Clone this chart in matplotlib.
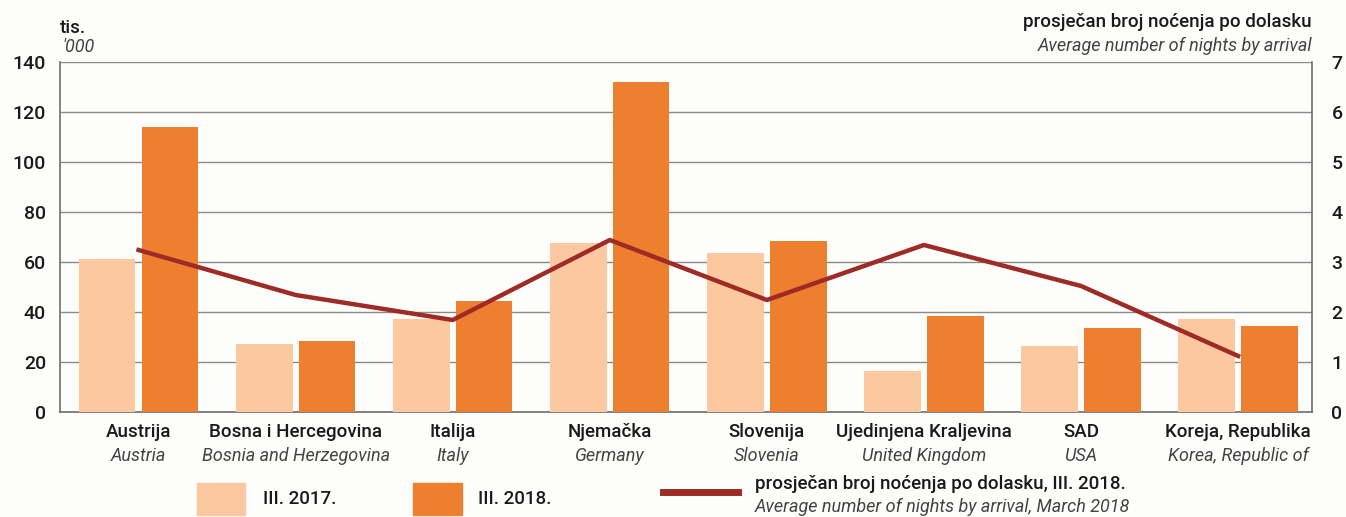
import matplotlib
matplotlib.use("Agg")
import matplotlib.pyplot as plt
import numpy as np
from matplotlib.patches import Rectangle
from matplotlib.lines import Line2D

plt.rcParams['font.family'] = ['Roboto', 'DejaVu Sans']

countries_hr = ["Austrija", "Bosna i Hercegovina", "Italija", "Njemačka",
                "Slovenija", "Ujedinjena Kraljevina", "SAD", "Koreja, Republika"]
countries_en = ["Austria", "Bosnia and Herzegovina", "Italy", "Germany",
                "Slovenia", "United Kingdom", "USA", "Korea, Republic of"]
arrivals_2017 = [61, 27, 37, 67.5, 63.5, 16.5, 26.5, 37]
arrivals_2018 = [114, 28.5, 44.5, 132, 68.5, 38.5, 33.5, 34.5]
nights_per_arrival = [3.24, 2.34, 1.84, 3.44, 2.24, 3.34, 2.52, 1.12]
left_ticks = [0, 20, 40, 60, 80, 100, 120, 140]
right_ticks = [0, 1, 2, 3, 4, 5, 6, 7]

c17 = "#FCC89F"
c18 = "#EE7F2F"
cline = "#9E2B25"
bg = "#FDFDFB"
dark = "#1a1a1a"
grey = "#444444"

fig = plt.figure(figsize=(13.46, 5.17), dpi=100, facecolor=bg)
ax = fig.add_axes([0.0446, 0.2031, 0.9301, 0.677])
ax.set_facecolor(bg)
x = np.arange(len(countries_hr))
w = 0.36
ax.bar(x - 0.2, arrivals_2017, width=w, color=c17, zorder=3)
ax.bar(x + 0.2, arrivals_2018, width=w, color=c18, zorder=3)
ax.set_xlim(-0.5, 7.47)
ax.set_ylim(0, 140)
ax.set_yticks(left_ticks)
ax.yaxis.grid(True, color="#8a8a8a", linewidth=1.0, zorder=0)
ax.set_axisbelow(True)
for s in ["left", "right", "bottom"]:
    ax.spines[s].set_color("#6e6e6e")
    ax.spines[s].set_linewidth(1.2)
ax.spines["top"].set_visible(False)
ax.tick_params(axis='y', length=0, pad=10, labelsize=14, labelcolor=dark)
ax.set_yticklabels([str(v) for v in left_ticks], fontweight='medium')
ax.set_xticks(x)
ax.set_xticklabels([""] * len(x))
ax.tick_params(axis='x', length=0)

ax2 = ax.twinx()
ax2.plot(x, nights_per_arrival, color=cline, linewidth=3.2, zorder=5)
ax2.set_ylim(0, 7)
ax2.set_yticks(right_ticks)
ax2.set_yticklabels([str(v) for v in right_ticks], fontweight='medium')
ax2.tick_params(axis='y', length=0, pad=14, labelsize=14, labelcolor=dark)
for s in ax2.spines.values():
    s.set_visible(False)

for i in range(len(x)):
    ax.text(x[i], -8, countries_hr[i], ha='center', va='center', fontsize=13.5,
            fontweight='medium', color=dark, transform=ax.transData)
    ax.text(x[i], -17.5, countries_en[i], ha='center', va='center', fontsize=13,
            style='italic', color=grey, transform=ax.transData)

# axis titles
fig.text(60/1346, 1-28/517, "tis.", fontsize=13.5, fontweight='medium', ha='left', va='center', color=dark)
fig.text(62/1346, 1-47/517, "'000", fontsize=13, style='italic', ha='left', va='center', color=grey)
fig.text(1312/1346, 1-22/517, "prosječan broj noćenja po dolasku", fontsize=13.5,
         fontweight='medium', ha='right', va='center', color=dark)
fig.text(1312/1346, 1-46/517, "Average number of nights by arrival", fontsize=13,
         style='italic', ha='right', va='center', color=grey)

# legend
fig.patches.append(Rectangle((197/1346, 1-515/517), 48/1346, 32/517, transform=fig.transFigure,
                             color=c17, figure=fig))
fig.text(263/1346, 1-499/517, "III. 2017.", fontsize=13.5, fontweight='medium', ha='left', va='center', color=dark)
fig.patches.append(Rectangle((413/1346, 1-515/517), 49/1346, 32/517, transform=fig.transFigure,
                             color=c18, figure=fig))
fig.text(478/1346, 1-499/517, "III. 2018.", fontsize=13.5, fontweight='medium', ha='left', va='center', color=dark)
fig.lines.append(Line2D([663/1346, 738/1346], [1-492/517, 1-492/517], transform=fig.transFigure,
                        color=cline, linewidth=5, figure=fig))
fig.text(755/1346, 1-484/517, "prosječan broj noćenja po dolasku, III. 2018.", fontsize=13.5,
         fontweight='medium', ha='left', va='center', color=dark)
fig.text(755/1346, 1-507/517, "Average number of nights by arrival, March 2018", fontsize=13,
         style='italic', ha='left', va='center', color=grey)

fig.savefig("out.png", dpi=100, facecolor=bg)
